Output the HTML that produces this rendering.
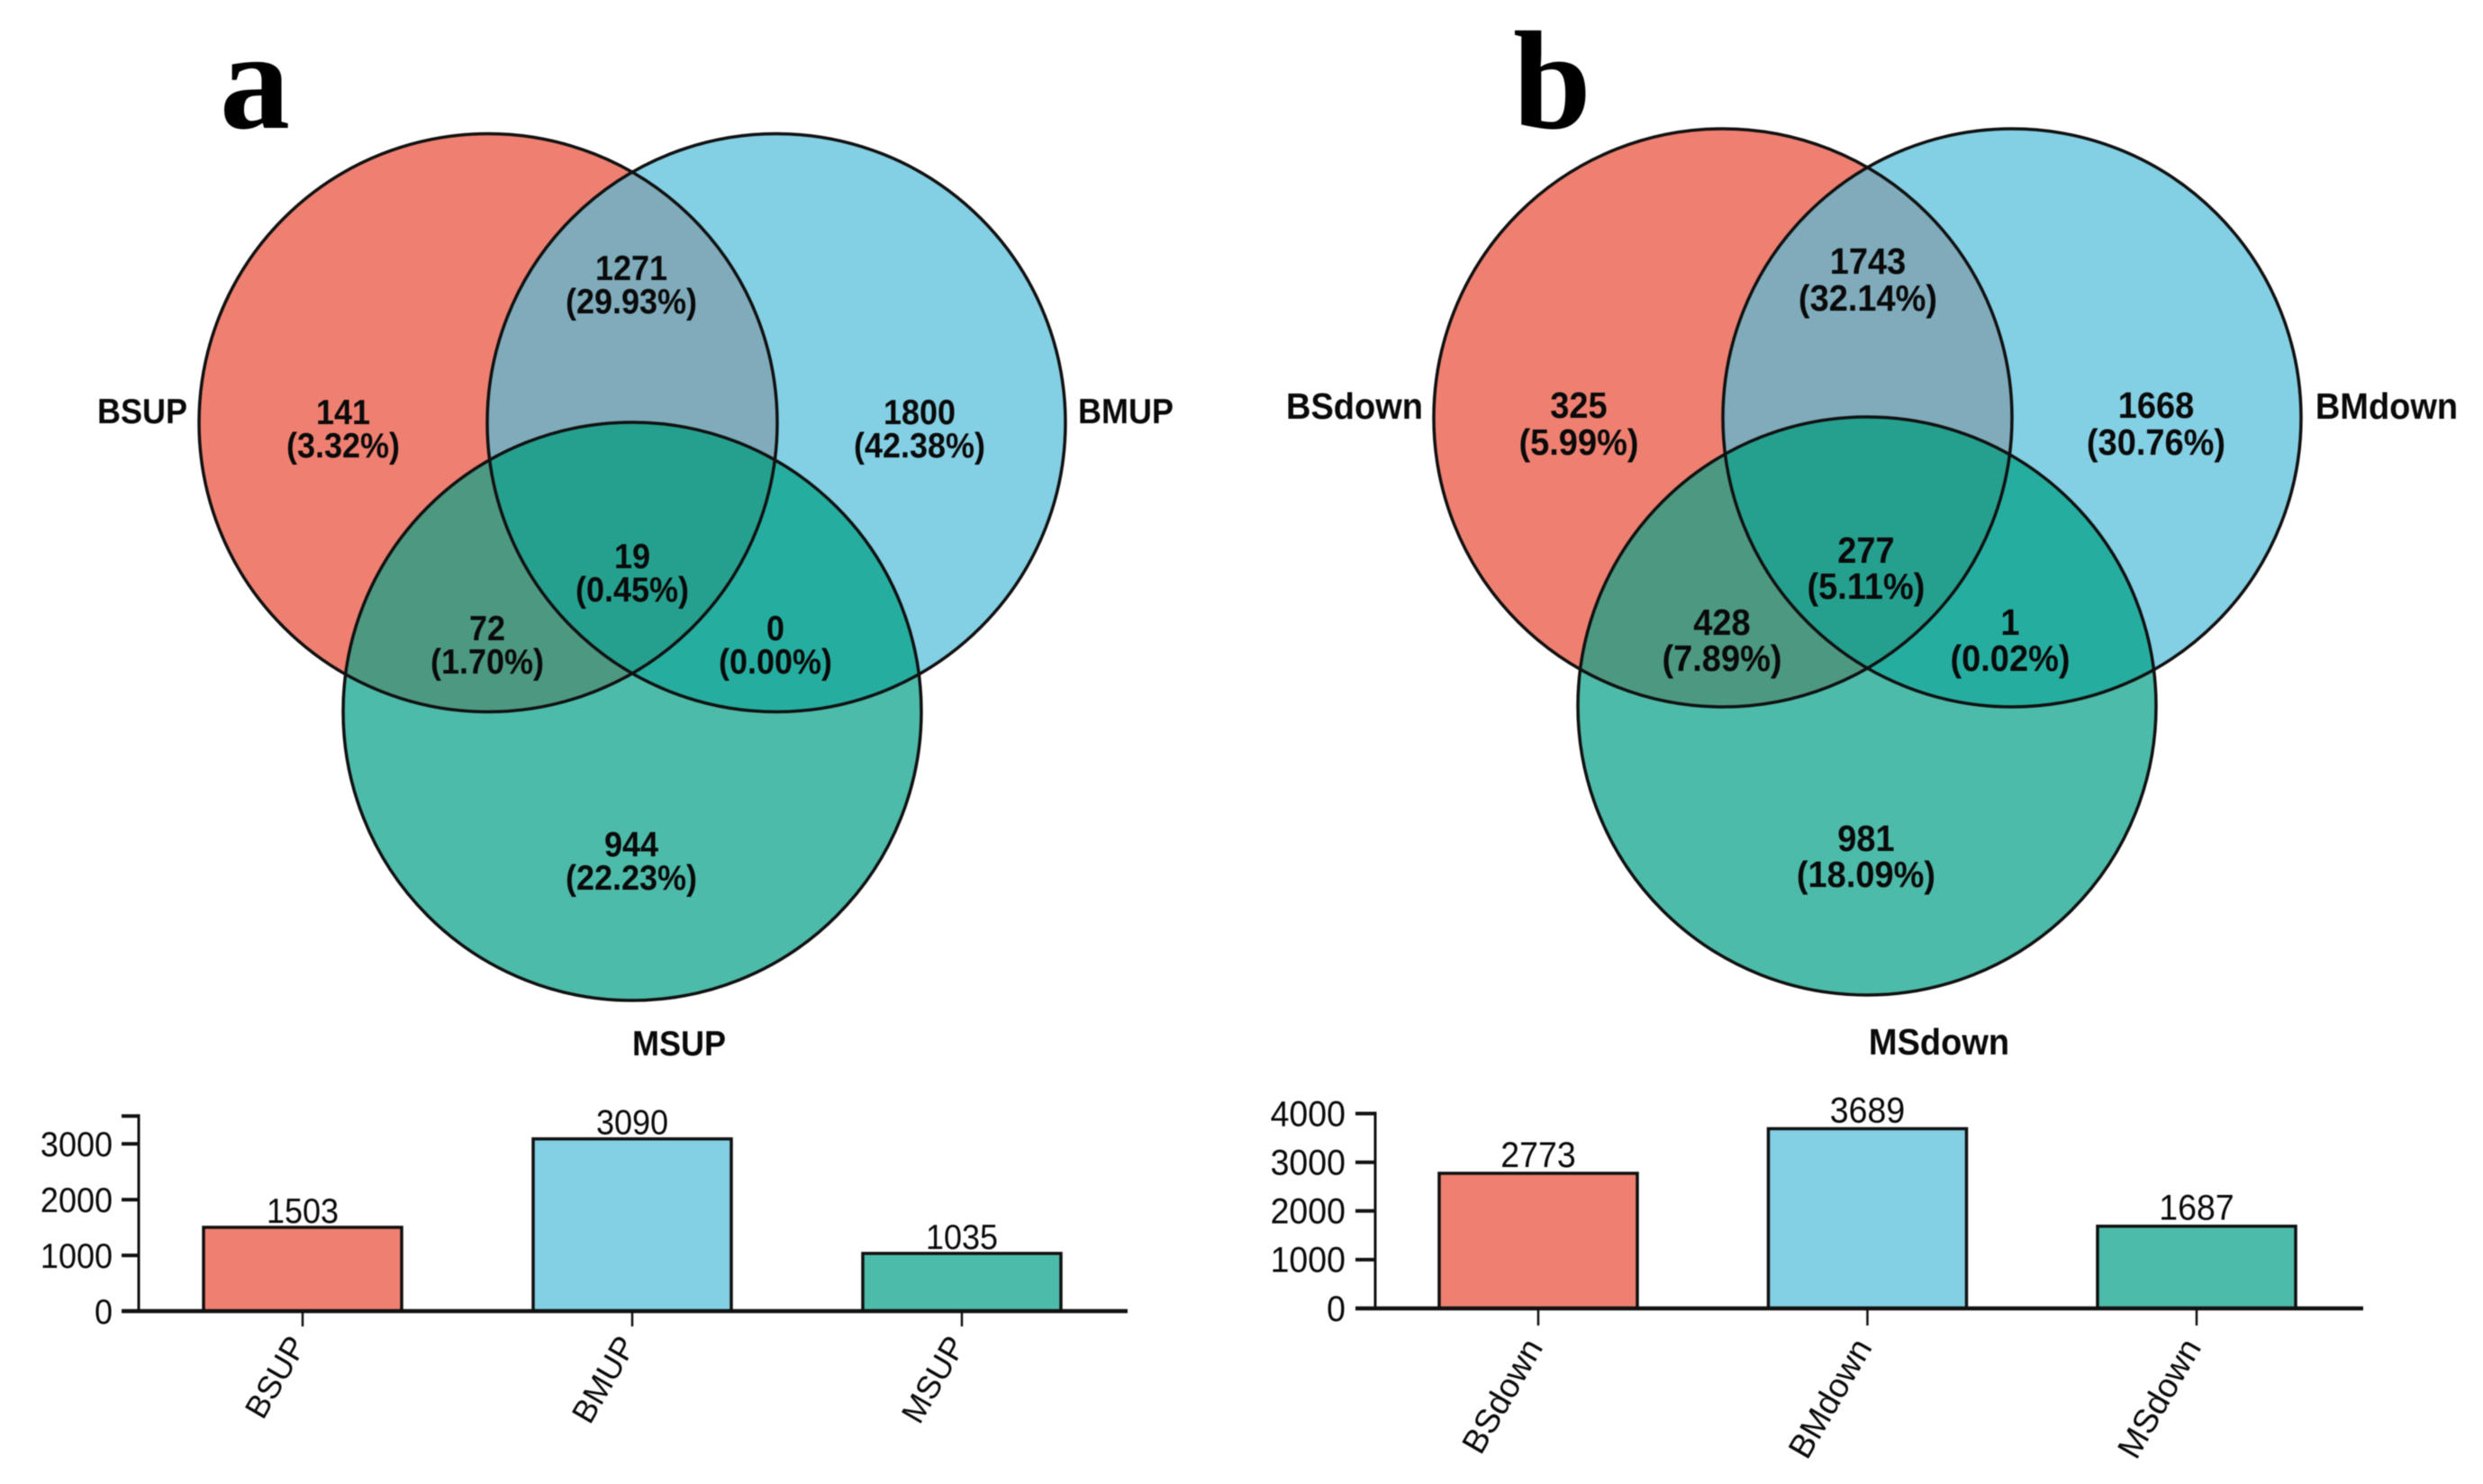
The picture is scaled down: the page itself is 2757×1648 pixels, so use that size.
<!DOCTYPE html>
<html lang="en">
<head>
<meta charset="utf-8">
<title>Venn diagrams and bar charts of up- and down-regulated genes</title>
<style>
html,body{margin:0;padding:0;background:#fff;}
svg{display:block;filter:blur(0.6px);}
text{font-family:"Liberation Sans",Arial,sans-serif;fill:#0a0a0a;}
.venn36{font-size:36px;font-weight:bold;text-anchor:middle;}
.venn38{font-size:38px;font-weight:bold;text-anchor:middle;}
.venn36 text,.venn38 text,text.upright{transform-box:fill-box;transform-origin:center;transform:scaleY(1.07);}
.letter{font-family:"Liberation Serif",serif;font-weight:bold;font-size:156px;fill:#000;}
.ring{fill:none;stroke:#111;stroke-width:3.5;}
</style>
</head>
<body>
<svg id="figure" xmlns="http://www.w3.org/2000/svg" width="2757" height="1648" viewBox="0 0 2757 1648">
<defs>
<clipPath id="a-bs"><circle cx="542" cy="469.5" r="321"/></clipPath>
<clipPath id="a-bm"><circle cx="862" cy="469.5" r="321"/></clipPath>
<clipPath id="b-bs"><circle cx="1913" cy="464" r="321"/></clipPath>
<clipPath id="b-bm"><circle cx="2234" cy="464" r="321"/></clipPath>
</defs>
<rect width="2757" height="1648" fill="#fff"/>

<g id="panel-a">
<text class="letter" x="244" y="142">a</text>
<g>
<circle cx="542" cy="469.5" r="321" fill="#EF8071"/>
<circle cx="862" cy="469.5" r="321" fill="#83CFE3"/>
<circle cx="702" cy="790" r="321" fill="#4DBBA9"/>
<g clip-path="url(#a-bs)"><circle cx="862" cy="469.5" r="321" fill="#7FABBB"/></g>
<g clip-path="url(#a-bs)"><circle cx="702" cy="790" r="321" fill="#4C9880"/></g>
<g clip-path="url(#a-bm)"><circle cx="702" cy="790" r="321" fill="#25AEA0"/></g>
<g clip-path="url(#a-bs)"><g clip-path="url(#a-bm)"><circle cx="702" cy="790" r="321" fill="#25A08F"/></g></g>
<circle class="ring" cx="542" cy="469.5" r="321"/>
<circle class="ring" cx="862" cy="469.5" r="321"/>
<circle class="ring" cx="702" cy="790" r="321"/>
<g class="venn36">
<text x="158" y="469">BSUP</text>
<text x="1250" y="469">BMUP</text>
<text x="754" y="1171">MSUP</text>
<text x="381" y="470">141</text>
<text x="381" y="507">(3.32%)</text>
<text x="701" y="310">1271</text>
<text x="701" y="347">(29.93%)</text>
<text x="1021" y="470">1800</text>
<text x="1021" y="507">(42.38%)</text>
<text x="702" y="630">19</text>
<text x="702" y="667">(0.45%)</text>
<text x="541" y="710">72</text>
<text x="541" y="747">(1.70%)</text>
<text x="861" y="710">0</text>
<text x="861" y="747">(0.00%)</text>
<text x="701" y="950">944</text>
<text x="701" y="987">(22.23%)</text>
</g>
</g>
<g id="bars-a"></g>
</g>

<g id="panel-b">
<text class="letter" x="1680" y="142">b</text>
<g>
<circle cx="1913" cy="464" r="321" fill="#EF8071"/>
<circle cx="2234" cy="464" r="321" fill="#83CFE3"/>
<circle cx="2073" cy="784" r="321" fill="#4DBBA9"/>
<g clip-path="url(#b-bs)"><circle cx="2234" cy="464" r="321" fill="#7FABBB"/></g>
<g clip-path="url(#b-bs)"><circle cx="2073" cy="784" r="321" fill="#4C9880"/></g>
<g clip-path="url(#b-bm)"><circle cx="2073" cy="784" r="321" fill="#25AEA0"/></g>
<g clip-path="url(#b-bs)"><g clip-path="url(#b-bm)"><circle cx="2073" cy="784" r="321" fill="#25A08F"/></g></g>
<circle class="ring" cx="1913" cy="464" r="321"/>
<circle class="ring" cx="2234" cy="464" r="321"/>
<circle class="ring" cx="2073" cy="784" r="321"/>
<g class="venn38">
<text x="1504" y="464">BSdown</text>
<text x="2650" y="464">BMdown</text>
<text x="2153" y="1170">MSdown</text>
<text x="1753" y="463">325</text>
<text x="1753" y="504">(5.99%)</text>
<text x="2074" y="303">1743</text>
<text x="2074" y="344">(32.14%)</text>
<text x="2394" y="463">1668</text>
<text x="2394" y="504">(30.76%)</text>
<text x="2072" y="624">277</text>
<text x="2072" y="664">(5.11%)</text>
<text x="1912" y="704">428</text>
<text x="1912" y="744">(7.89%)</text>
<text x="2232" y="704">1</text>
<text x="2232" y="744">(0.02%)</text>
<text x="2072" y="944">981</text>
<text x="2072" y="984">(18.09%)</text>
</g>
</g>
<g id="bars-b"></g>
</g>
</svg>

<script>
var categoriesUp = ["BSUP", "BMUP", "MSUP"];
var valuesUp = [1503, 3090, 1035];
var tickValuesUp = [0, 1000, 2000, 3000, 3500];
var tickLabelsUp = ["0", "1000", "2000", "3000", ""];

var categoriesDown = ["BSdown", "BMdown", "MSdown"];
var valuesDown = [2773, 3689, 1687];
var tickValuesDown = [0, 1000, 2000, 3000, 4000];
var tickLabelsDown = ["0", "1000", "2000", "3000", "4000"];

var barColors = ["#EF8071", "#83CFE3", "#4DBBA9"];
var NS = "http://www.w3.org/2000/svg";

function line(parent, x1, y1, x2, y2, width) {
  var el = document.createElementNS(NS, "line");
  el.setAttribute("x1", x1);
  el.setAttribute("y1", y1);
  el.setAttribute("x2", x2);
  el.setAttribute("y2", y2);
  el.setAttribute("stroke", "#111");
  el.setAttribute("stroke-width", width);
  parent.appendChild(el);
  return el;
}

function label(parent, x, y, str, size, anchor) {
  var el = document.createElementNS(NS, "text");
  el.setAttribute("x", x);
  el.setAttribute("y", y);
  el.setAttribute("font-size", size);
  el.setAttribute("text-anchor", anchor);
  el.textContent = str;
  parent.appendChild(el);
  return el;
}

function drawBars(parent, categories, values, tickValues, tickLabels, frame) {
  function yScale(v) { return frame.baseY - v * frame.pxPerUnit; }
  function xScale(i) { return frame.firstX + i * frame.stepX; }

  values.forEach(function (v, i) {
    var bar = document.createElementNS(NS, "rect");
    bar.setAttribute("x", xScale(i) - frame.barW / 2);
    bar.setAttribute("y", yScale(v));
    bar.setAttribute("width", frame.barW);
    bar.setAttribute("height", frame.baseY - yScale(v));
    bar.setAttribute("fill", barColors[i]);
    bar.setAttribute("stroke", "#111");
    bar.setAttribute("stroke-width", 3.5);
    
    
    parent.appendChild(bar);

    var valueText = label(parent, xScale(i), yScale(v) - frame.valueGap, String(v), frame.fontSize, "middle");
    valueText.setAttribute("class", "upright");
    
    

    var tick = line(parent, xScale(i), frame.baseY, xScale(i), frame.xTickEnd, 2.5);
    
    

    var px = xScale(i) + frame.xLabelDx;
    var py = frame.xLabelY;
    var catText = label(parent, px, py, categories[i], frame.fontSize, "end");
    catText.setAttribute("transform", "rotate(-60 " + px + " " + py + ")");
    
    
  });

  var yAxis = line(parent, frame.axisX, yScale(tickValues[tickValues.length - 1]) - 2, frame.axisX, frame.baseY, 3);
  
  

  var xAxis = line(parent, frame.tickX, frame.baseY, frame.axisEnd, frame.baseY, 4.5);
  
  

  tickValues.forEach(function (t, i) {
    var yTick = line(parent, frame.tickX, yScale(t), frame.axisX, yScale(t), 4);
    
    
    if (tickLabels[i] !== "") {
      var yLabel = label(parent, frame.yLabelX, yScale(t) + 13, tickLabels[i], frame.fontSize, "end");
      yLabel.setAttribute("class", "upright");
      
      
    }
  });
}

drawBars(document.getElementById("bars-a"), categoriesUp, valuesUp, tickValuesUp, tickLabelsUp, {
  baseY: 1456, pxPerUnit: 0.0619, firstX: 336, stepX: 366, barW: 220,
  axisX: 154, tickX: 135, axisEnd: 1252, xTickEnd: 1473, xLabelY: 1493, xLabelDx: 5,
  yLabelX: 125, fontSize: 36, valueGap: 6
});
drawBars(document.getElementById("bars-b"), categoriesDown, valuesDown, tickValuesDown, tickLabelsDown, {
  baseY: 1453, pxPerUnit: 0.0541, firstX: 1708, stepX: 365.5, barW: 220,
  axisX: 1527, tickX: 1505, axisEnd: 2624, xTickEnd: 1472, xLabelY: 1496, xLabelDx: 6,
  yLabelX: 1494, fontSize: 37.5, valueGap: 8
});
</script>
</body>
</html>
